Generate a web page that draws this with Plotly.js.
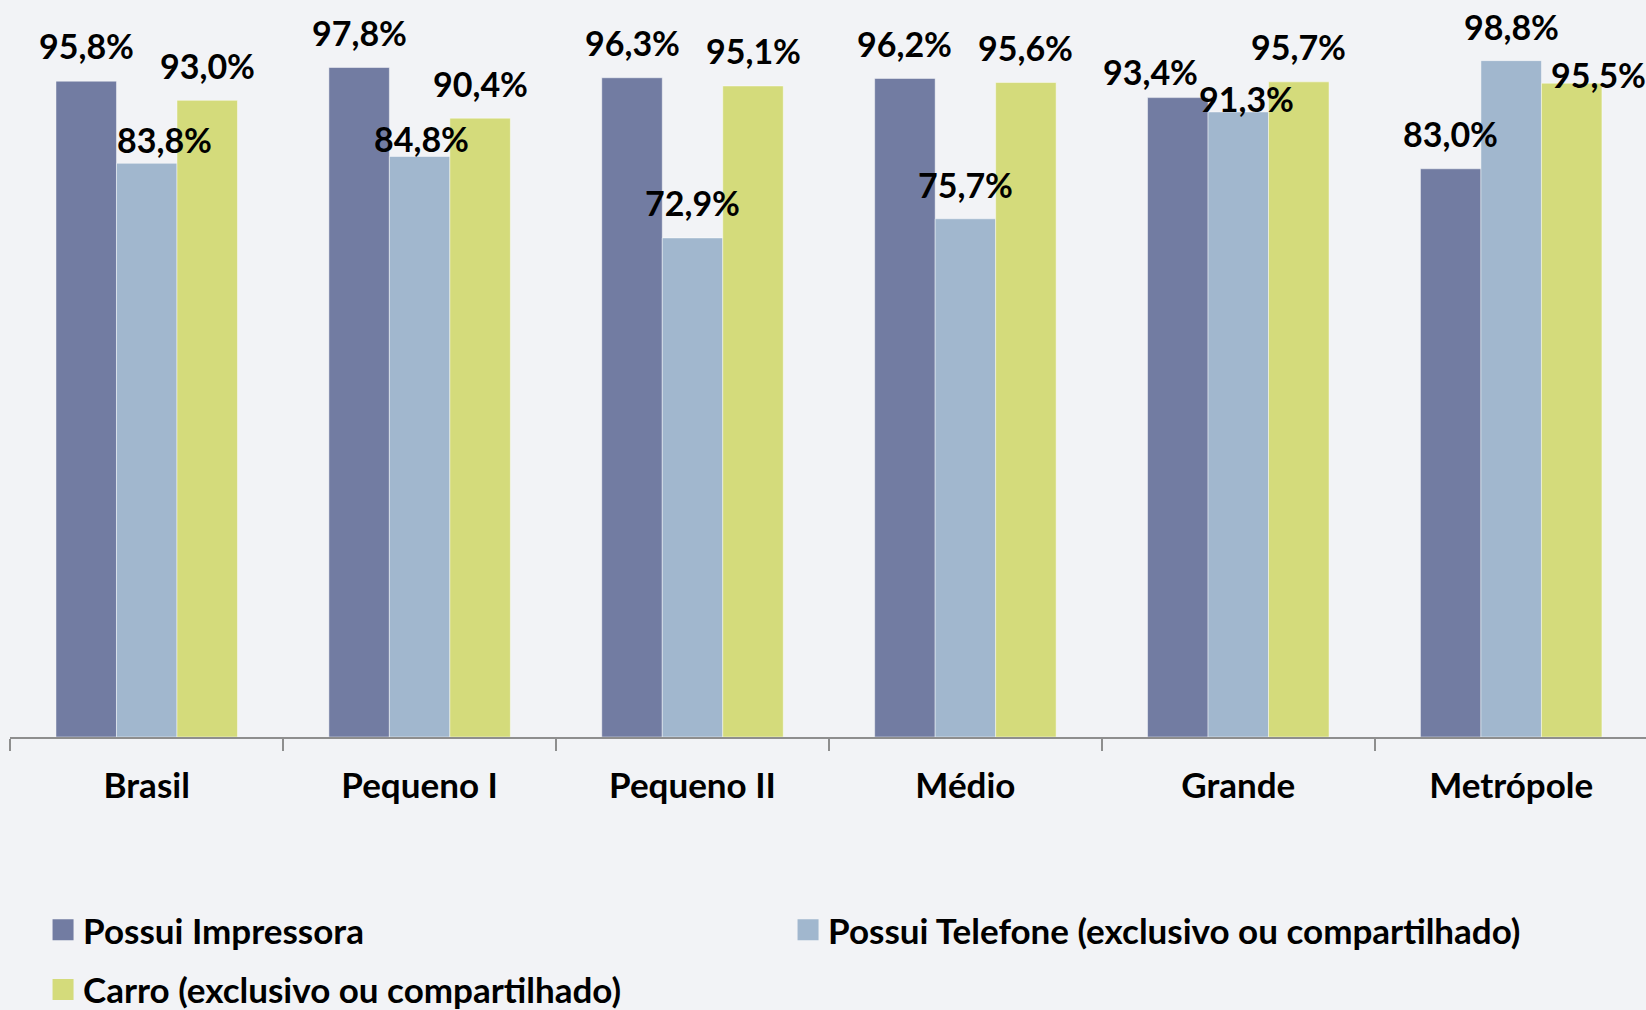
<!DOCTYPE html>
<html>
<head>
<meta charset="utf-8">
<script src="https://cdn.plot.ly/plotly-3.0.1.min.js"></script>
<style>
  html, body { margin: 0; padding: 0; background: #f2f3f6; }
  #chart { width: 1646px; height: 1010px; }
</style>
</head>
<body>
<div id="chart"></div>
<script>
// ---- data ----
const categories = ['Brasil', 'Pequeno I', 'Pequeno II', 'Médio', 'Grande', 'Metrópole'];
const seriesNames = [
  'Possui Impressora',
  'Possui Telefone (exclusivo ou compartilhado)',
  'Carro (exclusivo ou compartilhado)'
];
const impressora = [95.8, 97.8, 96.3, 96.2, 93.4, 83.0];
const telefone   = [83.8, 84.8, 72.9, 75.7, 91.3, 98.8];
const carro      = [93.0, 90.4, 95.1, 95.6, 95.7, 95.5];

// ---- style ----
const colors = ['#727ca2', '#a1b7ce', '#d4db7b'];
const FONT = 'Lato, "Open Sans", sans-serif';
const bargap = 0.335;
// label nudges in px (Excel hand-placed labels): [series][category]
const labelDy = [
  [34, 33, 33, 33, 24, 33],
  [22, 16, 33, 32, 11, 32],
  [33, 33, 33, 33, 33, 7]
];
const labelDx = [
  [0, 0, 0, 0, -27, 0],
  [18, 2, 0, 0, 8, 0],
  [0, 0, 0, 0, 0, 27]
];

const allSeries = [impressora, telefone, carro];
const traces = allSeries.map((vals, s) => ({
  type: 'bar',
  name: seriesNames[s],
  x: categories,
  y: vals,
  marker: { color: colors[s], line: { color: 'rgba(255,255,255,0.45)', width: 1 } },
  legend: s === 2 ? 'legend2' : 'legend',
  hoverinfo: 'none'
}));

const fmt = v => v.toFixed(1).replace('.', ',') + '%';
const slot = (1 - bargap) / 3;
const annotations = [];
allSeries.forEach((vals, s) => {
  vals.forEach((v, i) => {
    annotations.push({
      xref: 'x', yref: 'y',
      x: i + (s - 1) * slot,
      y: v,
      text: fmt(v),
      showarrow: false,
      xanchor: 'center', yanchor: 'middle',
      xshift: labelDx[s][i],
      yshift: labelDy[s][i] + 2,
      font: { family: FONT, size: 34, weight: 700, color: '#000' }
    });
  });
});

const layout = {
  width: 1646, height: 1010,
  margin: { l: 10, r: 0, t: 0, b: 273, pad: 0, autoexpand: false },
  paper_bgcolor: '#f2f3f6',
  plot_bgcolor: 'rgba(0,0,0,0)',
  barmode: 'group',
  bargap: bargap,
  bargroupgap: 0,
  font: { family: FONT, size: 34, weight: 700, color: '#000' },
  xaxis: {
    type: 'category',
    range: [-0.501, 5.494],
    showline: true, linecolor: '#8e8e8e', linewidth: 2,
    ticks: 'outside', tickson: 'boundaries', ticklen: 12, tickwidth: 2, tickcolor: '#8e8e8e',
    ticklabelstandoff: 17,
    tickfont: { family: FONT, size: 35, weight: 700, color: '#000' },
    showgrid: false, zeroline: false, fixedrange: true, automargin: false
  },
  yaxis: {
    range: [0, 107.66],
    visible: false, showgrid: false, zeroline: false, fixedrange: true
  },
  showlegend: true,
  legend: {
    orientation: 'h',
    x: 0.0202, xanchor: 'left',
    y: -0.262, yanchor: 'middle',
    entrywidth: 700,
    bgcolor: 'rgba(0,0,0,0)',
    font: { family: FONT, size: 35, weight: 700, color: '#000' },
    itemclick: false, itemdoubleclick: false
  },
  legend2: {
    orientation: 'h',
    x: 0.0202, xanchor: 'left',
    y: -0.343, yanchor: 'middle',
    bgcolor: 'rgba(0,0,0,0)',
    font: { family: FONT, size: 35, weight: 700, color: '#000' },
    itemclick: false, itemdoubleclick: false
  },
  annotations: annotations
};

Plotly.newPlot('chart', traces, layout, { displayModeBar: false, staticPlot: true }).then(gd => {
  // enlarge the legend swatches to match the reference squares
  gd.querySelectorAll('.legendpoints path').forEach(p => {
    p.setAttribute('d', 'M10.5,10.5H-10.5V-10.5H10.5Z');
    p.style.strokeWidth = '0';
  });
});
</script>
</body>
</html>
